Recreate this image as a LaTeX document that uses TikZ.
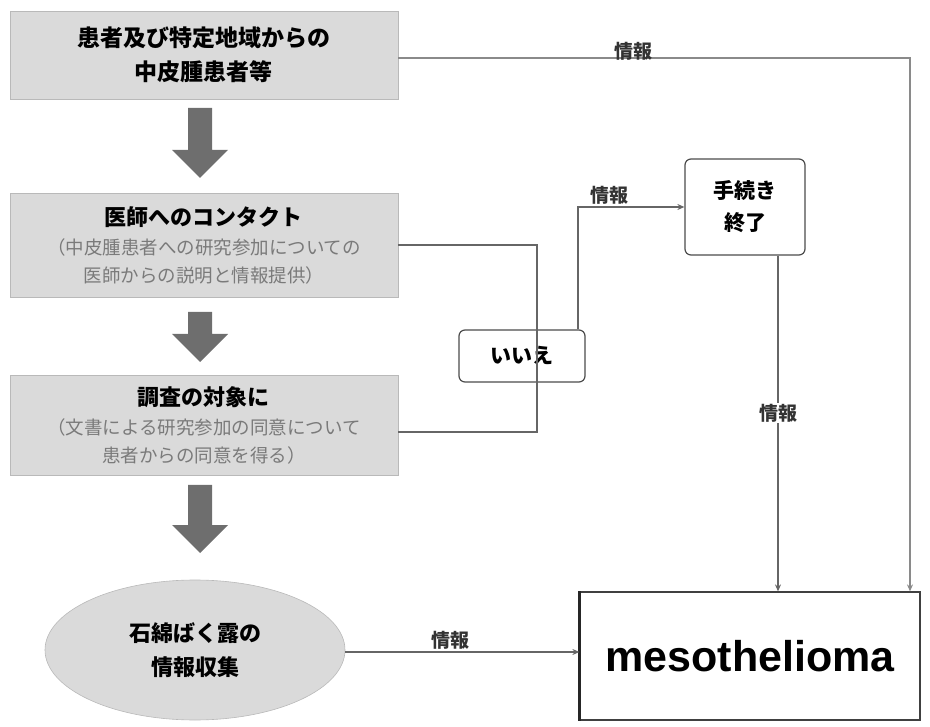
\documentclass[tikz,border=0pt]{standalone}
\usepackage{fontspec}
\setmainfont{Noto Sans CJK JP}
\usetikzlibrary{arrows.meta,shapes.geometric}
\definecolor{boxgray}{HTML}{DADADA}
\definecolor{arrgray}{HTML}{6E6E6E}
\definecolor{linegray}{HTML}{8A8A8A}
\definecolor{subgray}{HTML}{7A7A7A}
\newcommand{\subtxt}{\fontsize{18.5}{26}\selectfont\mdseries\color{subgray}}
\tikzset{
  x=1pt,y=1pt,
  graybox/.style={draw=boxgray!85!black, line width=0.6pt, fill=boxgray, minimum width=388pt, align=center, inner sep=2pt},
  whitebox/.style={draw=black!70, line width=1.2pt, fill=white, rounded corners=6pt, align=center},
  conn/.style={draw=black!60, line width=1.4pt},
  arr/.style={conn, -{Stealth[length=7pt,width=6pt]}},
  lbl/.style={font=\fontsize{19}{22}\selectfont\bfseries, text=black!80, inner sep=1pt},
  blockarrow/.style={fill=arrgray, draw=none},
}
\begin{document}
\begin{tikzpicture}
\useasboundingbox (0,0) rectangle (930,-727);
% gray boxes
\node[graybox, minimum height=88pt, font=\fontsize{23}{34}\selectfont\bfseries] (b1) at (204,-55)
  {患者及び特定地域からの\\ 中皮腫患者等};
\node[graybox, minimum height=104pt, font=\fontsize{22}{28}\selectfont\bfseries] (b2) at (204,-245)
  {医師へのコンタクト\\[1pt]
   \subtxt （中皮腫患者への研究参加についての\\ \subtxt 医師からの説明と情報提供）};
\node[graybox, minimum height=100pt, font=\fontsize{22}{28}\selectfont\bfseries] (b3) at (204,-425)
  {調査の対象に\\[1pt]
   \subtxt （文書による研究参加の同意について\\ \subtxt 患者からの同意を得る）};
\node[ellipse, fill=boxgray, draw=boxgray!85!black, line width=0.6pt, minimum width=300pt, minimum height=140pt, align=center, font=\fontsize{22}{34}\selectfont\bfseries] (el) at (195,-650)
  {石綿ばく露の\\ 情報収集};
% block arrows
\foreach \ya/\yb in {-108/-178, -312/-362, -485/-553}{
  \path[blockarrow] (188,\ya) -- (212,\ya) -- (212,{\yb+28}) -- (228,{\yb+28}) -- (200,\yb) -- (172,{\yb+28}) -- (188,{\yb+28}) -- cycle;
}
% right side boxes
\node[whitebox, minimum width=126pt, minimum height=52pt, font=\fontsize{21}{24}\selectfont\bfseries] (no) at (522,-356)
  {いいえ};
\node[whitebox, minimum width=120pt, minimum height=96pt, font=\fontsize{21}{32}\selectfont\bfseries] (end) at (745,-207)
  {手続き\\ 終了};
\node[draw=black!75, line width=1.2pt, fill=white, minimum width=340pt, minimum height=128pt, font=\fontsize{43}{48}\selectfont\bfseries\fontspec{Liberation Sans}] (meso) at (750,-656)
  {mesothelioma};
\draw[black!85, line width=3pt] (meso.north west) -- (meso.south west);
% coordinates
\coordinate (bx) at (537,-245);
\coordinate (by) at (537,-432);
\coordinate (up) at (578,-207);
\coordinate (tr) at (910,-58);
\coordinate (mx) at (778,0);
% connectors
\draw[conn] (b2.east |- bx) -- (bx) -- (by) -- (b3.east |- by);
\draw[arr] (no.north -| up) -- (up) -- (end.west) node[lbl, pos=0.3, above=1pt] {情報};
\draw[arr] (end.south -| mx) -- (meso.north -| mx) node[lbl, pos=0.47, fill=white] {情報};
\draw[arr, draw=linegray] (b1.east |- tr) -- (tr) node[lbl, pos=0.46, above=-4pt] {情報} -- (meso.north -| tr);
\draw[arr] (el.east |- 0,-652) -- (meso.west |- 0,-652) node[lbl, pos=0.45, above=1pt] {情報};
\end{tikzpicture}
\end{document}
